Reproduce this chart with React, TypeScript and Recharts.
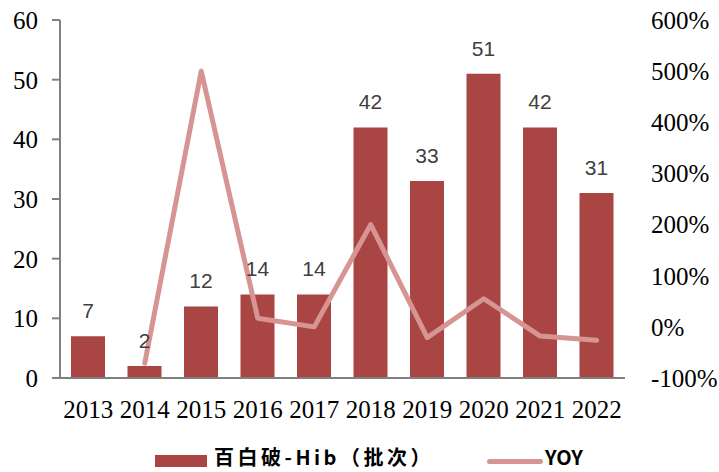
import React from 'react';
import { ComposedChart, Bar, Line, XAxis, YAxis, Legend, LabelList } from 'recharts';

const years = ['2013', '2014', '2015', '2016', '2017', '2018', '2019', '2020', '2021', '2022'];
const batches = [7, 2, 12, 14, 14, 42, 33, 51, 42, 31];
const yoy: (number | null)[] = [null, -0.71, 5.0, 0.17, 0.0, 2.0, -0.21, 0.55, -0.18, -0.26];
const leftTicks = [0, 10, 20, 30, 40, 50, 60];
const rightTicks = [-1, 0, 1, 2, 3, 4, 5, 6];
const barName = '百白破-Hib（批次）';
const lineName = 'YOY';

const data = years.map((y, i) => ({ year: y, batches: batches[i], yoy: yoy[i] }));

const BAR_COLOR = '#A94543';
const LINE_COLOR = '#D69492';
const SERIF = '"Liberation Serif", "Times New Roman", serif';
const CJK = '"Noto Sans CJK SC", "Noto Sans", sans-serif';

const LegendContent = () => (
  <div style={{ position: 'relative', width: 719, height: 30 }}>
    <div style={{ position: 'absolute', left: 155, top: 13, width: 52, height: 12, background: BAR_COLOR }} />
    <div style={{ position: 'absolute', left: 214, top: 4, fontFamily: CJK, fontWeight: 700, fontSize: 20, letterSpacing: 3.5, lineHeight: '22px', color: '#000', whiteSpace: 'nowrap' }}>{barName}</div>
    <div style={{ position: 'absolute', left: 487, top: 17, width: 56, height: 5, borderRadius: 3, background: LINE_COLOR }} />
    <div style={{ position: 'absolute', left: 545, top: 4, fontFamily: CJK, fontWeight: 700, fontSize: 20, lineHeight: '22px', color: '#000', whiteSpace: 'nowrap' }}>{lineName}</div>
  </div>
);

export default function App() {
  return (
    <div style={{ position: 'absolute', left: 0, top: 0, background: '#fff' }}>
      <ComposedChart width={719} height={472} data={data} margin={{ top: 20, right: 0, bottom: 0, left: 0 }} barCategoryGap="20%">
        <XAxis
          dataKey="year"
          xAxisId="x"
          height={64}
          tickLine={false}
          tickSize={0}
          tickMargin={22}
          axisLine={{ stroke: '#808080', strokeWidth: 2 }}
          tick={{ fill: '#000', fontSize: 25, fontFamily: SERIF }}
          interval={0}
        />
        <YAxis
          yAxisId="left"
          width={60}
          domain={[0, 60]}
          ticks={leftTicks}
          interval={0}
          tickSize={8}
          tickMargin={14}
          axisLine={{ stroke: '#808080', strokeWidth: 2 }}
          tickLine={{ stroke: '#808080', strokeWidth: 2 }}
          tick={{ fill: '#000', fontSize: 25, fontFamily: SERIF }}
        />
        <YAxis
          yAxisId="right"
          orientation="right"
          width={94}
          domain={[-1, 6]}
          ticks={rightTicks}
          interval={0}
          axisLine={false}
          tickLine={false}
          tickSize={0}
          tickMargin={26}
          tickFormatter={(v: number) => `${Math.round(v * 100)}%`}
          tick={{ fill: '#000', fontSize: 25, fontFamily: SERIF, textAnchor: 'start' }}
        />
        <Legend verticalAlign="bottom" align="left" wrapperStyle={{ bottom: 0, left: 0 }} content={() => <LegendContent />} />
        <Bar xAxisId="x" yAxisId="left" dataKey="batches" name={barName} fill={BAR_COLOR} barSize={34} isAnimationActive={false}>
          <LabelList dataKey="batches" position="top" offset={18} fill="#404040" fontSize={21} fontFamily='"Liberation Sans", Arial, sans-serif' />
        </Bar>
        <Line xAxisId="x" yAxisId="right" dataKey="yoy" name={lineName} stroke={LINE_COLOR} strokeWidth={5} dot={false} activeDot={false} isAnimationActive={false} strokeLinecap="round" strokeLinejoin="round" />
      </ComposedChart>
    </div>
  );
}
